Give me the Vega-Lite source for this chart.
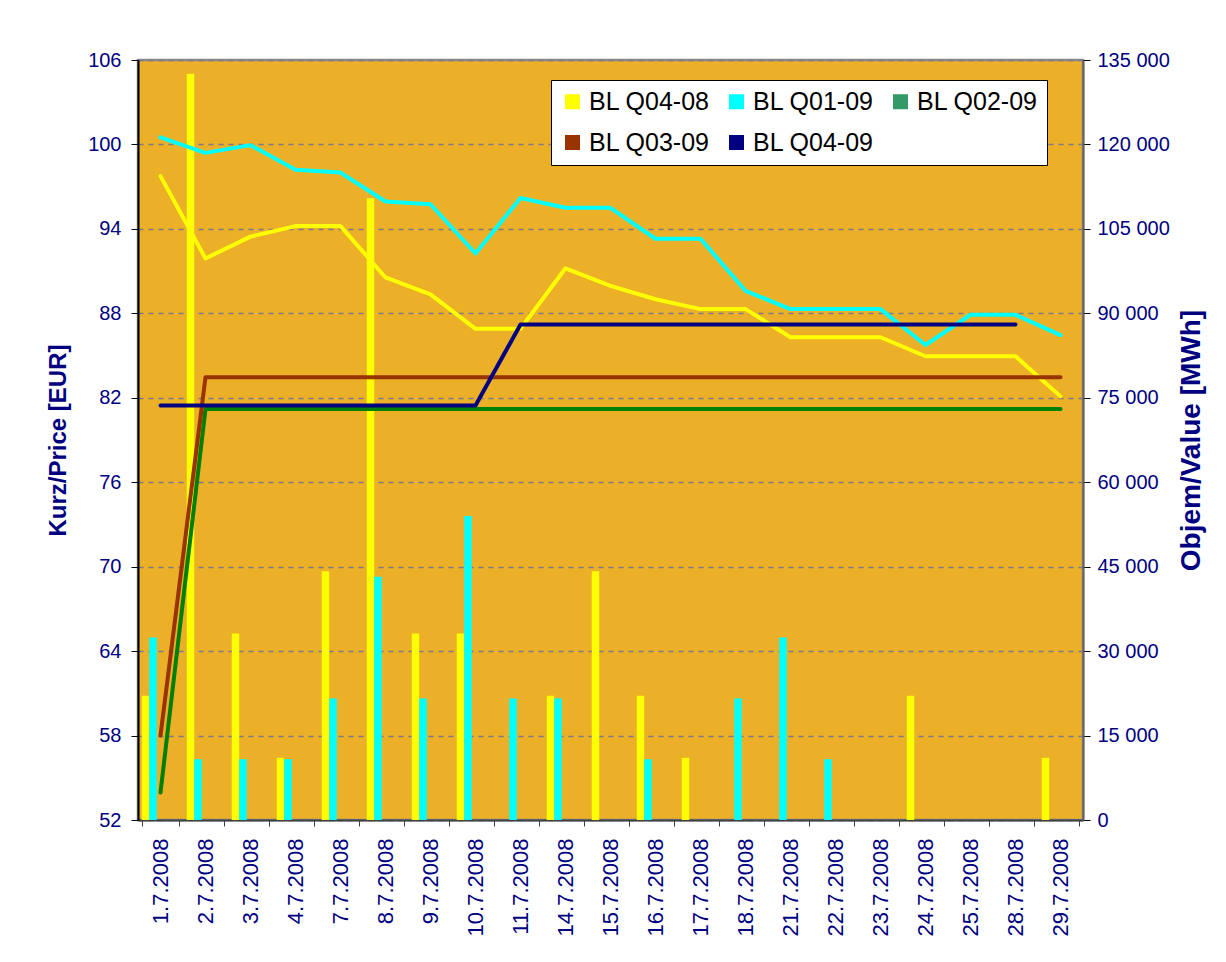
{
  "$schema": "https://vega.github.io/schema/vega-lite/v6.json",
  "width": 945,
  "height": 760,
  "autosize": {"type": "none"},
  "padding": {"left": 138, "top": 60, "right": 143, "bottom": 142},
  "background": "white",
  "config": {
    "font": "Liberation Sans",
    "view": {"fill": "#EBAF28", "stroke": "#8A8A8A", "strokeWidth": 2.5},
    "axis": {
      "labelFont": "Liberation Sans",
      "titleFont": "Liberation Sans",
      "labelColor": "#000080",
      "titleColor": "#000080",
      "labelFontSize": 20,
      "tickColor": "#000000",
      "tickSize": 7
    },
    "legend": {
      "labelFont": "Liberation Sans",
      "labelFontSize": 25,
      "labelColor": "#000000"
    }
  },
  "datasets": {
    "volumes": [
      {"date": "1.7.2008", "series": "BL Q04-08", "volume": 22090},
      {"date": "2.7.2008", "series": "BL Q04-08", "volume": 132540},
      {"date": "3.7.2008", "series": "BL Q04-08", "volume": 33135},
      {"date": "4.7.2008", "series": "BL Q04-08", "volume": 11045},
      {"date": "7.7.2008", "series": "BL Q04-08", "volume": 44180},
      {"date": "8.7.2008", "series": "BL Q04-08", "volume": 110450},
      {"date": "9.7.2008", "series": "BL Q04-08", "volume": 33135},
      {"date": "10.7.2008", "series": "BL Q04-08", "volume": 33135},
      {"date": "14.7.2008", "series": "BL Q04-08", "volume": 22090},
      {"date": "15.7.2008", "series": "BL Q04-08", "volume": 44180},
      {"date": "16.7.2008", "series": "BL Q04-08", "volume": 22090},
      {"date": "17.7.2008", "series": "BL Q04-08", "volume": 11045},
      {"date": "24.7.2008", "series": "BL Q04-08", "volume": 22090},
      {"date": "29.7.2008", "series": "BL Q04-08", "volume": 11045},
      {"date": "1.7.2008", "series": "BL Q01-09", "volume": 32400},
      {"date": "2.7.2008", "series": "BL Q01-09", "volume": 10800},
      {"date": "3.7.2008", "series": "BL Q01-09", "volume": 10800},
      {"date": "4.7.2008", "series": "BL Q01-09", "volume": 10800},
      {"date": "7.7.2008", "series": "BL Q01-09", "volume": 21600},
      {"date": "8.7.2008", "series": "BL Q01-09", "volume": 43200},
      {"date": "9.7.2008", "series": "BL Q01-09", "volume": 21600},
      {"date": "10.7.2008", "series": "BL Q01-09", "volume": 54000},
      {"date": "11.7.2008", "series": "BL Q01-09", "volume": 21600},
      {"date": "14.7.2008", "series": "BL Q01-09", "volume": 21600},
      {"date": "16.7.2008", "series": "BL Q01-09", "volume": 10800},
      {"date": "18.7.2008", "series": "BL Q01-09", "volume": 21600},
      {"date": "21.7.2008", "series": "BL Q01-09", "volume": 32400},
      {"date": "22.7.2008", "series": "BL Q01-09", "volume": 10800}
    ],
    "prices": [
      {"date": "1.7.2008", "series": "BL Q04-08", "price": 97.75},
      {"date": "2.7.2008", "series": "BL Q04-08", "price": 91.9},
      {"date": "3.7.2008", "series": "BL Q04-08", "price": 93.45},
      {"date": "4.7.2008", "series": "BL Q04-08", "price": 94.2},
      {"date": "7.7.2008", "series": "BL Q04-08", "price": 94.2},
      {"date": "8.7.2008", "series": "BL Q04-08", "price": 90.55},
      {"date": "9.7.2008", "series": "BL Q04-08", "price": 89.35},
      {"date": "10.7.2008", "series": "BL Q04-08", "price": 86.9},
      {"date": "11.7.2008", "series": "BL Q04-08", "price": 86.9},
      {"date": "14.7.2008", "series": "BL Q04-08", "price": 91.2},
      {"date": "15.7.2008", "series": "BL Q04-08", "price": 89.95},
      {"date": "16.7.2008", "series": "BL Q04-08", "price": 89.0},
      {"date": "17.7.2008", "series": "BL Q04-08", "price": 88.3},
      {"date": "18.7.2008", "series": "BL Q04-08", "price": 88.3},
      {"date": "21.7.2008", "series": "BL Q04-08", "price": 86.3},
      {"date": "22.7.2008", "series": "BL Q04-08", "price": 86.3},
      {"date": "23.7.2008", "series": "BL Q04-08", "price": 86.3},
      {"date": "24.7.2008", "series": "BL Q04-08", "price": 84.95},
      {"date": "25.7.2008", "series": "BL Q04-08", "price": 84.95},
      {"date": "28.7.2008", "series": "BL Q04-08", "price": 84.95},
      {"date": "29.7.2008", "series": "BL Q04-08", "price": 82.1},
      {"date": "1.7.2008", "series": "BL Q01-09", "price": 100.5},
      {"date": "2.7.2008", "series": "BL Q01-09", "price": 99.4},
      {"date": "3.7.2008", "series": "BL Q01-09", "price": 99.95},
      {"date": "4.7.2008", "series": "BL Q01-09", "price": 98.2},
      {"date": "7.7.2008", "series": "BL Q01-09", "price": 98.0},
      {"date": "8.7.2008", "series": "BL Q01-09", "price": 95.95},
      {"date": "9.7.2008", "series": "BL Q01-09", "price": 95.75},
      {"date": "10.7.2008", "series": "BL Q01-09", "price": 92.25},
      {"date": "11.7.2008", "series": "BL Q01-09", "price": 96.2},
      {"date": "14.7.2008", "series": "BL Q01-09", "price": 95.5},
      {"date": "15.7.2008", "series": "BL Q01-09", "price": 95.5},
      {"date": "16.7.2008", "series": "BL Q01-09", "price": 93.3},
      {"date": "17.7.2008", "series": "BL Q01-09", "price": 93.3},
      {"date": "18.7.2008", "series": "BL Q01-09", "price": 89.6},
      {"date": "21.7.2008", "series": "BL Q01-09", "price": 88.3},
      {"date": "22.7.2008", "series": "BL Q01-09", "price": 88.3},
      {"date": "23.7.2008", "series": "BL Q01-09", "price": 88.3},
      {"date": "24.7.2008", "series": "BL Q01-09", "price": 85.75},
      {"date": "25.7.2008", "series": "BL Q01-09", "price": 87.9},
      {"date": "28.7.2008", "series": "BL Q01-09", "price": 87.9},
      {"date": "29.7.2008", "series": "BL Q01-09", "price": 86.45},
      {"date": "1.7.2008", "series": "BL Q02-09", "price": 53.95},
      {"date": "2.7.2008", "series": "BL Q02-09", "price": 81.2},
      {"date": "3.7.2008", "series": "BL Q02-09", "price": 81.2},
      {"date": "4.7.2008", "series": "BL Q02-09", "price": 81.2},
      {"date": "7.7.2008", "series": "BL Q02-09", "price": 81.2},
      {"date": "8.7.2008", "series": "BL Q02-09", "price": 81.2},
      {"date": "9.7.2008", "series": "BL Q02-09", "price": 81.2},
      {"date": "10.7.2008", "series": "BL Q02-09", "price": 81.2},
      {"date": "11.7.2008", "series": "BL Q02-09", "price": 81.2},
      {"date": "14.7.2008", "series": "BL Q02-09", "price": 81.2},
      {"date": "15.7.2008", "series": "BL Q02-09", "price": 81.2},
      {"date": "16.7.2008", "series": "BL Q02-09", "price": 81.2},
      {"date": "17.7.2008", "series": "BL Q02-09", "price": 81.2},
      {"date": "18.7.2008", "series": "BL Q02-09", "price": 81.2},
      {"date": "21.7.2008", "series": "BL Q02-09", "price": 81.2},
      {"date": "22.7.2008", "series": "BL Q02-09", "price": 81.2},
      {"date": "23.7.2008", "series": "BL Q02-09", "price": 81.2},
      {"date": "24.7.2008", "series": "BL Q02-09", "price": 81.2},
      {"date": "25.7.2008", "series": "BL Q02-09", "price": 81.2},
      {"date": "28.7.2008", "series": "BL Q02-09", "price": 81.2},
      {"date": "29.7.2008", "series": "BL Q02-09", "price": 81.2},
      {"date": "1.7.2008", "series": "BL Q03-09", "price": 58.0},
      {"date": "2.7.2008", "series": "BL Q03-09", "price": 83.45},
      {"date": "3.7.2008", "series": "BL Q03-09", "price": 83.45},
      {"date": "4.7.2008", "series": "BL Q03-09", "price": 83.45},
      {"date": "7.7.2008", "series": "BL Q03-09", "price": 83.45},
      {"date": "8.7.2008", "series": "BL Q03-09", "price": 83.45},
      {"date": "9.7.2008", "series": "BL Q03-09", "price": 83.45},
      {"date": "10.7.2008", "series": "BL Q03-09", "price": 83.45},
      {"date": "11.7.2008", "series": "BL Q03-09", "price": 83.45},
      {"date": "14.7.2008", "series": "BL Q03-09", "price": 83.45},
      {"date": "15.7.2008", "series": "BL Q03-09", "price": 83.45},
      {"date": "16.7.2008", "series": "BL Q03-09", "price": 83.45},
      {"date": "17.7.2008", "series": "BL Q03-09", "price": 83.45},
      {"date": "18.7.2008", "series": "BL Q03-09", "price": 83.45},
      {"date": "21.7.2008", "series": "BL Q03-09", "price": 83.45},
      {"date": "22.7.2008", "series": "BL Q03-09", "price": 83.45},
      {"date": "23.7.2008", "series": "BL Q03-09", "price": 83.45},
      {"date": "24.7.2008", "series": "BL Q03-09", "price": 83.45},
      {"date": "25.7.2008", "series": "BL Q03-09", "price": 83.45},
      {"date": "28.7.2008", "series": "BL Q03-09", "price": 83.45},
      {"date": "29.7.2008", "series": "BL Q03-09", "price": 83.45},
      {"date": "1.7.2008", "series": "BL Q04-09", "price": 81.45},
      {"date": "2.7.2008", "series": "BL Q04-09", "price": 81.45},
      {"date": "3.7.2008", "series": "BL Q04-09", "price": 81.45},
      {"date": "4.7.2008", "series": "BL Q04-09", "price": 81.45},
      {"date": "7.7.2008", "series": "BL Q04-09", "price": 81.45},
      {"date": "8.7.2008", "series": "BL Q04-09", "price": 81.45},
      {"date": "9.7.2008", "series": "BL Q04-09", "price": 81.45},
      {"date": "10.7.2008", "series": "BL Q04-09", "price": 81.45},
      {"date": "11.7.2008", "series": "BL Q04-09", "price": 87.2},
      {"date": "14.7.2008", "series": "BL Q04-09", "price": 87.2},
      {"date": "15.7.2008", "series": "BL Q04-09", "price": 87.2},
      {"date": "16.7.2008", "series": "BL Q04-09", "price": 87.2},
      {"date": "17.7.2008", "series": "BL Q04-09", "price": 87.2},
      {"date": "18.7.2008", "series": "BL Q04-09", "price": 87.2},
      {"date": "21.7.2008", "series": "BL Q04-09", "price": 87.2},
      {"date": "22.7.2008", "series": "BL Q04-09", "price": 87.2},
      {"date": "23.7.2008", "series": "BL Q04-09", "price": 87.2},
      {"date": "24.7.2008", "series": "BL Q04-09", "price": 87.2},
      {"date": "25.7.2008", "series": "BL Q04-09", "price": 87.2},
      {"date": "28.7.2008", "series": "BL Q04-09", "price": 87.2}
    ]
  },
  "layer": [
    {
      "data": {"name": "volumes"},
      "mark": {"type": "bar", "strokeWidth": 0},
      "encoding": {
        "x": {
          "field": "date", "type": "nominal", "sort": null,
          "scale": {
            "domain": ["1.7.2008","2.7.2008","3.7.2008","4.7.2008","7.7.2008","8.7.2008","9.7.2008","10.7.2008","11.7.2008","14.7.2008","15.7.2008","16.7.2008","17.7.2008","18.7.2008","21.7.2008","22.7.2008","23.7.2008","24.7.2008","25.7.2008","28.7.2008","29.7.2008"],
            "paddingInner": 0.1667, "paddingOuter": 0.0833
          },
          "axis": {
            "title": null, "labelAngle": 270, "labelFontSize": 22, "labelPadding": 12,
            "tickBand": "extent", "tickSize": 6, "tickColor": "#404040",
            "domainColor": "#404040", "domainWidth": 2
          }
        },
        "xOffset": {
          "field": "series", "type": "nominal",
          "scale": {"domain": ["BL Q04-08","BL Q01-09","BL Q02-09","BL Q03-09","BL Q04-09"]}
        },
        "y": {
          "field": "volume", "type": "quantitative",
          "scale": {"domain": [0, 135000], "nice": false, "zero": true},
          "axis": {
            "orient": "right", "title": "Objem/Value [MWh]", "titleAngle": 270,
            "titleFontSize": 28, "titleFontWeight": "bold", "titlePadding": 36,
            "values": [0,15000,30000,45000,60000,75000,90000,105000,120000,135000],
            "labelExpr": "replace(format(datum.value, ','), ',', ' ')",
            "labelPadding": 7, "grid": false,
            "domainColor": "#606060", "domainWidth": 2
          }
        },
        "color": {
          "field": "series", "type": "nominal",
          "scale": {
            "domain": ["BL Q04-08","BL Q01-09","BL Q02-09","BL Q03-09","BL Q04-09"],
            "range": ["#FFFF00","#00FFFF","#339966","#993300","#000080"]
          },
          "legend": {
            "title": null, "orient": "none", "legendX": 413, "legendY": 20,
            "columns": 3, "direction": "horizontal",
            "symbolType": "square", "symbolSize": 225, "symbolStrokeWidth": 0, "symbolOpacity": 1,
            "labelOffset": 4, "columnPadding": 14, "rowPadding": 15,
            "padding": 9, "fillColor": "#FFFFFF", "strokeColor": "#000000",
            "cornerRadius": 0
          }
        }
      }
    },
    {
      "data": {"name": "prices"},
      "mark": {"type": "line", "strokeWidth": 4, "strokeCap": "round", "strokeJoin": "round"},
      "encoding": {
        "x": {
          "field": "date", "type": "nominal", "sort": null,
          "scale": {
            "domain": ["1.7.2008","2.7.2008","3.7.2008","4.7.2008","7.7.2008","8.7.2008","9.7.2008","10.7.2008","11.7.2008","14.7.2008","15.7.2008","16.7.2008","17.7.2008","18.7.2008","21.7.2008","22.7.2008","23.7.2008","24.7.2008","25.7.2008","28.7.2008","29.7.2008"],
            "paddingInner": 0.1667, "paddingOuter": 0.0833
          },
          "axis": {
            "title": null, "labelAngle": 270, "labelFontSize": 22, "labelPadding": 12,
            "tickBand": "extent", "tickSize": 6, "tickColor": "#404040",
            "domainColor": "#404040", "domainWidth": 2
          }
        },
        "y": {
          "field": "price", "type": "quantitative",
          "scale": {"domain": [52, 106], "nice": false, "zero": false},
          "axis": {
            "orient": "left", "title": "Kurz/Price [EUR]",
            "titleFontSize": 24, "titleFontWeight": "bold", "titlePadding": 17,
            "values": [52,58,64,70,76,82,88,94,100,106],
            "labelPadding": 10, "grid": true, "gridColor": "#7A7A8A", "gridDash": [5,5], "gridWidth": 1.5,
            "domainColor": "#000000", "domainWidth": 2
          }
        },
        "color": {
          "field": "series", "type": "nominal",
          "scale": {
            "domain": ["BL Q04-08","BL Q01-09","BL Q02-09","BL Q03-09","BL Q04-09"],
            "range": ["#FFFF00","#00FFFF","#008000","#993300","#000080"]
          },
          "legend": null
        }
      }
    }
  ],
  "resolve": {"scale": {"y": "independent", "color": "independent"}, "axis": {"y": "independent"}}
}
